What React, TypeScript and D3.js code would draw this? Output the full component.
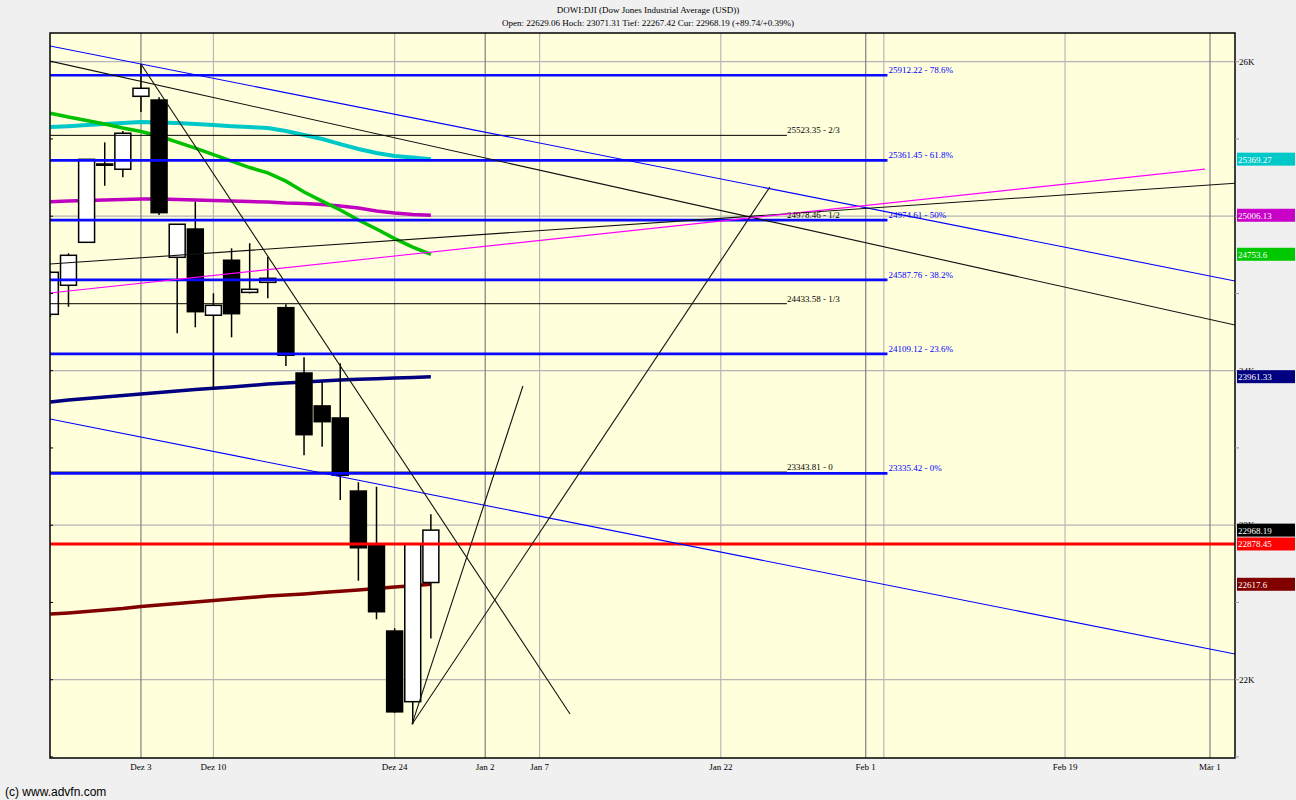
import React, { useEffect } from 'react'
import * as d3 from 'd3'

// trading days shown, first one sits at index -5 (Dez 3 = 0)
const firstIdx = -5
const days = ['Nov 26', 'Nov 27', 'Nov 28', 'Nov 29', 'Nov 30', 'Dez 3', 'Dez 4', 'Dez 6', 'Dez 7', 'Dez 10', 'Dez 11',
  'Dez 12', 'Dez 13', 'Dez 14', 'Dez 17', 'Dez 18', 'Dez 19', 'Dez 20', 'Dez 21', 'Dez 24', 'Dez 26', 'Dez 27']
const opens = [24365, 24553, 24831, 25330, 25304, 25776, 25752, 24734, 24917, 24359, 24715,
  24507, 24572, 24408, 23985, 23772, 23694, 23221, 22867, 22315, 21857.73, 22629.06]
const highs = [24645, 24760, 25368, 25478, 25552, 25985, 25770, 24950, 25094, 24501, 24792,
  24825, 24738, 24430, 24087, 23929, 24048, 23278, 23249, 22333, 22878.92, 23071.31]
const lows = [24350, 24414, 24831, 25197, 25252, 25674, 25008, 24242, 24281, 23880, 24216,
  24500, 24469, 24030, 23452, 23508, 23163, 22641, 22391, 21786, 21712, 22267.42]
const closes = [24637, 24747, 25368, 25338, 25537, 25828, 25023, 24948, 24382, 24423, 24369,
  24527, 24598, 24100, 23586, 23670, 23323, 22854, 22440, 21792, 22878.45, 22968.19]

// moving averages, one value per trading day above
const maCyan = [25577, 25583, 25590, 25597, 25603, 25610, 25606, 25603, 25597, 25590, 25583,
  25577, 25571, 25551, 25526, 25500, 25467, 25435, 25409, 25390, 25380, 25369.27]
const maGreen = [25666, 25642, 25619, 25597, 25571, 25548, 25519, 25480, 25441, 25399, 25357,
  25315, 25280, 25227, 25157, 25098, 25040, 24975, 24917, 24855, 24800, 24753.6]
const maMagenta = [25094, 25098, 25102, 25105, 25108, 25111, 25111, 25108, 25105, 25102, 25098,
  25095, 25092, 25085, 25082, 25076, 25066, 25053, 25034, 25021, 25011, 25006.13]
const maNavy = [23797, 23810, 23820, 23830, 23839, 23849, 23859, 23869, 23878, 23886, 23895,
  23904, 23914, 23920, 23927, 23933, 23940, 23944, 23948, 23953, 23956, 23961.33]
const maDarkRed = [22425, 22432, 22441, 22451, 22461, 22474, 22484, 22493, 22503, 22513, 22522,
  22532, 22542, 22548, 22555, 22564, 22572, 22580, 22590, 22600, 22608, 22617.6]

const prevClose = 22878.45

// fibonacci retracement
const fibValues = [25912.22, 25361.45, 24974.61, 24587.76, 24109.12, 23335.42]
const fibNames = ['78.6%', '61.8%', '50%', '38.2%', '23.6%', '0%']
const fibEndIdx = 41.2
// thirds
const thirdValues = [25523.35, 24978.46, 24433.58, 23343.81]
const thirdNames = ['2/3', '1/2', '1/3', '0']
const thirdEndIdx = 35.65

// trend lines [index, value]
const channelTop = [[-5.02, 26102], [60.38, 24581]]
const channelBottom = [[-5.02, 23687], [60.38, 22166]]
const blackDown = [[-5.02, 26004], [60.38, 24296]]
const blackUp = [[-5.02, 24691], [60.38, 25213]]
const pinkUp = [[-5.02, 24503], [58.72, 25305]]
const fromDec3High = [[0, 25985], [23.68, 21778]]
const fromDec26LowA = [[14.96, 21712], [21.08, 23901]]
const fromDec26LowB = [[14.96, 21712], [34.71, 25189]]

// right-hand value tags
const tagValues = [25369.27, 25006.13, 24753.6, 23961.33, 22968.19, 22878.45, 22617.6]
const tagLabels = ['25369.27', '25006.13', '24753.6', '23961.33', '22968.19', '22878.45', '22617.6']

// x axis
const xTickIdx = [0, 4, 14, 19, 22, 32, 40, 41, 51, 59]
const xTickLabels = ['Dez 3', 'Dez 10', 'Dez 24', 'Jan 2', 'Jan 7', 'Jan 22', 'Feb 1', '', 'Feb 19', 'Mär 1']
const xTickMonth = [true, false, false, true, false, false, true, false, false, true]
// y axis (25K label sits fully under the magenta tag, so it is not written)
const yTicks = [22000, 23000, 24000, 25000, 26000]
const yTickLabels = ['22K', '23K', '24K', '', '26K']

const title = 'DOWI:DJI (Dow Jones Industrial Average (USD))'
const subtitle = 'Open: 22629.06 Hoch: 23071.31 Tief: 22267.42 Cur: 22968.19 (+89.74/+0.39%)'

export default function App() {
  useEffect(() => { document.body.style.margin = '0' }, [])
  const L = 50, R = 1235, T = 33, B = 758
  const x = d3.scaleLinear().domain([-5.02, 60.38]).range([L, R])
  const y = d3.scaleLinear().domain([21493.2, 26185.8]).range([B, T])
  const serif = '"Liberation Serif", "Times New Roman", serif'
  const idx = days.map((_, i) => firstIdx + i)
  const bw = (x(1) - x(0)) * 0.88

  const maLine = d3.line<number>().x((_, i) => x(idx[i])).y(v => y(v))
  const seg = (p: number[][]) => d3.line<number[]>().x(d => x(d[0])).y(d => y(d[1]))(p) || ''
  const minorTicks = d3.range(21500, 26001, 500)

  const mas = [
    { d: maCyan, c: '#00c8c8', w: 4 },
    { d: maMagenta, c: '#c000c0', w: 3.5 },
    { d: maGreen, c: '#00c000', w: 3.5 },
    { d: maNavy, c: '#000080', w: 3.5 },
    { d: maDarkRed, c: '#800000', w: 3.5 },
  ]
  const trends = [
    { p: channelTop, c: '#0000ff' },
    { p: channelBottom, c: '#0000ff' },
    { p: blackDown, c: '#111' },
    { p: blackUp, c: '#111' },
    { p: pinkUp, c: '#ff00ff' },
    { p: fromDec3High, c: '#111' },
    { p: fromDec26LowA, c: '#111' },
    { p: fromDec26LowB, c: '#111' },
  ]
  const tagColors = ['#00c8c8', '#c800c8', '#00c800', '#000080', '#000000', '#ff0000', '#800000']

  return (
    <svg width={1296} height={800} style={{ display: 'block', background: '#f0f0f0', fontFamily: serif }}>
      <defs>
        <clipPath id="plot"><rect x={L} y={T} width={R - L} height={B - T} /></clipPath>
      </defs>
      <text x={648} y={13} fontSize={9} textAnchor="middle">{title}</text>
      <text x={648} y={26} fontSize={9} textAnchor="middle">{subtitle}</text>

      <rect x={L} y={T} width={R - L} height={B - T} fill="#ffffdc" />
      <g clipPath="url(#plot)">
        {yTicks.map(t => <line key={t} x1={L} x2={R} y1={y(t)} y2={y(t)} stroke="#b4b4b4" strokeWidth={1.2} />)}
        {xTickIdx.map((t, i) => <line key={t} x1={x(t)} x2={x(t)} y1={T} y2={B} stroke={xTickMonth[i] ? '#808080' : '#b8b8b8'} strokeWidth={1.2} />)}

        {mas.map((m, i) => <path key={i} d={maLine(m.d) || ''} fill="none" stroke={m.c} strokeWidth={m.w} />)}

        {idx.map((t, i) => {
          const up = closes[i] >= opens[i]
          const yt = y(Math.max(opens[i], closes[i]))
          const yb = y(Math.min(opens[i], closes[i]))
          return (
            <g key={i}>
              <line x1={x(t)} x2={x(t)} y1={y(highs[i])} y2={y(lows[i])} stroke="#000" strokeWidth={1.5} />
              <rect x={x(t) - bw / 2} y={yt} width={bw} height={Math.max(1, yb - yt)} fill={up ? '#fff' : '#000'} stroke="#000" strokeWidth={1.5} />
            </g>
          )
        })}

        {thirdValues.map(v => <line key={v} x1={L} x2={x(thirdEndIdx)} y1={y(v)} y2={y(v)} stroke="#000" strokeWidth={1} />)}
        {fibValues.map(v => <line key={v} x1={L} x2={x(fibEndIdx)} y1={y(v)} y2={y(v)} stroke="#0a0aff" strokeWidth={2.6} />)}
        <line x1={L} x2={R} y1={y(prevClose)} y2={y(prevClose)} stroke="#ff0000" strokeWidth={3} />
        {trends.map((t, i) => <path key={i} d={seg(t.p)} fill="none" stroke={t.c} strokeWidth={1.1} />)}

        {thirdValues.map((v, i) => (
          <text key={v} x={x(thirdEndIdx)} y={y(v) - 2} fontSize={9} fill="#000">{`${v.toFixed(2)} - ${thirdNames[i]}`}</text>
        ))}
        {fibValues.map((v, i) => (
          <text key={v} x={x(fibEndIdx) + 1} y={y(v) - 2} fontSize={9} fill="#0000ff">{`${v.toFixed(2)} - ${fibNames[i]}`}</text>
        ))}
        {minorTicks.map(t => <line key={t} x1={L} x2={L + 3} y1={y(t)} y2={y(t)} stroke="#000" />)}
      </g>
      <rect x={L} y={T} width={R - L} height={B - T} fill="none" stroke="#000" strokeWidth={1.5} />

      {minorTicks.map(t => <line key={t} x1={R} x2={R + 4} y1={y(t)} y2={y(t)} stroke="#999" />)}
      {yTicks.map((t, i) => yTickLabels[i] ? <text key={t} x={R + 4} y={y(t) + 3} fontSize={9}>{yTickLabels[i]}</text> : null)}
      {xTickIdx.map((t, i) => <text key={t} x={x(t)} y={770} fontSize={9} textAnchor="middle">{xTickLabels[i]}</text>)}

      {tagValues.map((v, i) => (
        <g key={v}>
          <rect x={R + 2} y={y(v) - 6.5} width={58} height={13} fill={tagColors[i]} />
          <text x={R + 3} y={y(v) + 3.5} fontSize={9} fill="#fff">{tagLabels[i]}</text>
        </g>
      ))}

      <text x={5} y={796} fontSize={12} fontFamily='"Liberation Sans", Arial, sans-serif'>(c) www.advfn.com</text>
    </svg>
  )
}
